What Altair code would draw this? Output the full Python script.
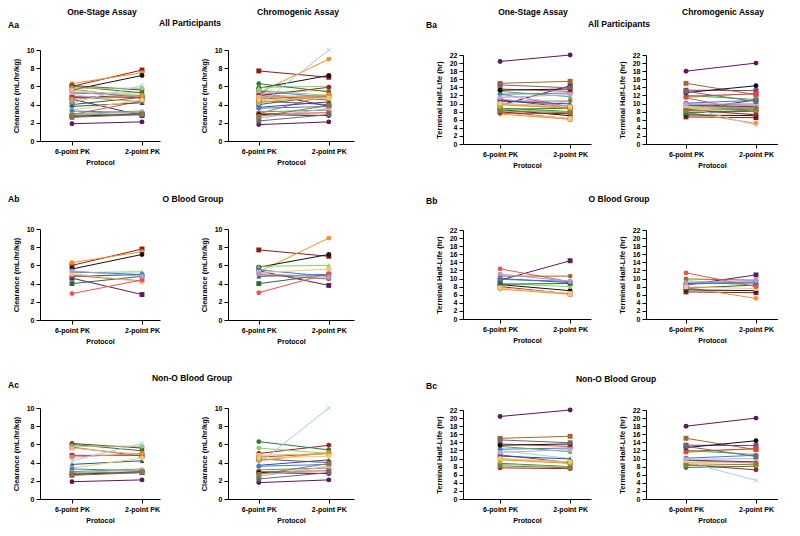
import altair as alt
import pandas as pd

FONT = "Liberation Sans"
PROTOCOLS = ["6-point PK", "2-point PK"]
X_SHAPE = "M-1,-0.8L-0.8,-1L0,-0.2L0.8,-1L1,-0.8L0.2,0L1,0.8L0.8,1L0,0.2L-0.8,1L-1,0.8L-0.2,0Z"

# ---------------- O blood group participants ----------------
O_ids = [f"O{i}" for i in range(1, 13)]
O_colors = ["#8E1B1B", "#F7901E", "#111111", "#5A1E5C", "#7ED957", "#2E6B34",
            "#2753A6", "#3B7FD1", "#9A6A2E", "#F6C08E", "#F0514B", "#B09AD6"]
O_shapes = ["square", "circle", "circle", "square", "triangle-up", "square",
            "triangle-up", "circle", "circle", "square", "circle", "circle"]
# (6-point PK, 2-point PK)
O_clear_one = [(6.0, 7.8), (6.3, 7.5), (5.6, 7.2), (4.6, 2.8), (5.2, 5.3), (4.0, 4.8),
               (4.8, 5.0), (5.3, 5.0), (4.9, 4.3), (5.1, 4.2), (2.9, 4.4), (5.4, 4.8)]
O_clear_chromo = [(7.7, 7.0), (5.3, 9.0), (5.8, 7.2), (5.4, 3.8), (5.9, 6.0), (4.0, 5.0),
                  (4.8, 5.0), (5.5, 4.8), (5.0, 4.5), (5.2, 5.6), (3.0, 5.1), (5.1, 4.7)]
O_hl_one = [(8.0, 6.2), (7.4, 6.1), (8.5, 7.0), (9.6, 14.4), (8.8, 8.0), (8.6, 8.8),
            (10.0, 9.0), (9.8, 9.3), (10.6, 10.6), (7.7, 6.3), (12.4, 9.2), (11.1, 9.3)]
O_hl_chromo = [(6.7, 6.5), (7.8, 5.1), (7.2, 7.0), (8.4, 10.9), (9.5, 8.2), (7.6, 8.4),
               (8.8, 8.9), (8.6, 9.2), (9.9, 9.6), (8.0, 7.5), (11.4, 8.0), (9.0, 9.5)]

# ---------------- Non-O blood group participants ----------------
N_ids = [f"N{i}" for i in range(1, 19)]
N_colors = ["#5B1A5B", "#9B2226", "#2D7A3A", "#8BD16A", "#A9652B", "#F4B183",
            "#7B3F8C", "#F28A30", "#A8CBEF", "#2B4E9B", "#E8D44D", "#3C7DD9",
            "#4CAF50", "#E8403A", "#111111", "#C3A6D8", "#6B6B6B", "#8C7A3A"]
N_shapes = ["circle", "circle", "circle", "circle", "square", "square",
            "square", "circle", "X", "triangle-up", "circle", "circle",
            "triangle-up", "square", "circle", "circle", "square", "square"]
N_clear_one = [(1.9, 2.1), (6.1, 5.6), (6.0, 5.3), (5.8, 5.8), (5.7, 4.7), (5.6, 4.9),
               (4.8, 4.8), (4.6, 5.0), (4.2, 6.1), (3.8, 4.2), (3.4, 4.5), (3.3, 3.1),
               (3.0, 3.3), (2.8, 2.9), (2.7, 3.0), (2.9, 3.2), (2.6, 2.9), (2.8, 3.0)]
N_clear_chromo = [(1.8, 2.1), (5.0, 5.9), (6.3, 5.4), (5.6, 5.0), (4.6, 5.0), (4.8, 5.0),
                  (4.4, 4.0), (4.2, 5.1), (3.9, 10.0), (3.7, 4.3), (4.5, 4.7), (3.6, 3.8),
                  (3.2, 3.4), (3.0, 3.1), (2.9, 2.8), (2.5, 3.6), (2.2, 2.9), (2.7, 3.9)]
N_hl_one = [(20.4, 22.0), (7.7, 7.5), (8.8, 8.0), (8.6, 7.9), (15.0, 15.5), (9.9, 9.0),
            (10.9, 9.0), (9.7, 8.8), (12.0, 10.0), (10.6, 9.9), (10.0, 9.2), (12.3, 12.6),
            (13.0, 11.7), (13.6, 13.0), (13.3, 13.6), (11.5, 12.2), (14.6, 13.9), (8.2, 7.7)]
N_hl_chromo = [(18.0, 20.0), (8.5, 7.2), (7.8, 8.1), (11.5, 12.5), (15.0, 12.2), (9.0, 9.3),
               (13.3, 13.2), (9.5, 8.9), (9.2, 4.6), (9.6, 9.2), (8.9, 8.4), (10.1, 10.8),
               (12.0, 11.0), (11.8, 12.4), (12.7, 14.4), (9.8, 10.0), (13.0, 10.5), (8.3, 8.6)]


def build(group, ids, colors, shapes, c1, c2, h1, h2):
    rows = []
    for i, pid in enumerate(ids):
        shp = X_SHAPE if shapes[i] == "X" else shapes[i]
        for k, prot in enumerate(PROTOCOLS):
            rows.append(dict(group=group, pid=pid, color=colors[i], shape=shp,
                             protocol=prot, clear_one=c1[i][k], clear_chromo=c2[i][k],
                             hl_one=h1[i][k], hl_chromo=h2[i][k]))
    return rows


df = pd.DataFrame(
    build("O", O_ids, O_colors, O_shapes, O_clear_one, O_clear_chromo, O_hl_one, O_hl_chromo)
    + build("Non-O", N_ids, N_colors, N_shapes, N_clear_one, N_clear_chromo, N_hl_one, N_hl_chromo)
)
df_all = df
df_o = df[df["group"] == "O"]
df_non = df[df["group"] == "Non-O"]

CLEAR_TICKS = [0, 2, 4, 6, 8, 10]
HL_TICKS = list(range(0, 23, 2))


def panel(data, field, kind, width, pad, align, height):
    if kind == "clear":
        ytitle, dom, ticks = "Clearance (mL/hr/kg)", [0, 10], CLEAR_TICKS
    else:
        ytitle, dom, ticks = "Terminal Half-Life (hr)", [0, 22], HL_TICKS
    x = alt.X("protocol:N", sort=PROTOCOLS,
              scale=alt.Scale(type="point", padding=pad, align=align),
              axis=alt.Axis(title="Protocol", labelAngle=0, titleFontSize=7, titlePadding=4))
    y = alt.Y(f"{field}:Q", scale=alt.Scale(domain=dom, nice=False),
              axis=alt.Axis(title=ytitle, values=ticks, labelOverlap=False, titlePadding=6))
    base = alt.Chart(data).encode(x=x, y=y)
    lines = base.mark_line(strokeWidth=1).encode(
        detail="pid:N", color=alt.Color("color:N", scale=None))
    pts = base.mark_point(filled=True, size=24, opacity=1).encode(
        color=alt.Color("color:N", scale=None), shape=alt.Shape("shape:N", scale=None))
    return alt.layer(lines, pts).properties(width=width, height=height)


def pair_a(data):
    p1 = panel(data, "clear_one", "clear", 120, 0.357, 0.64, 91)
    p2 = panel(data, "clear_chromo", "clear", 126, 0.40, 0.55, 91)
    return alt.hconcat(p1, p2, spacing=40)


def pair_b(data):
    p3 = panel(data, "hl_one", "hl", 128, 0.414, 0.64, 89)
    p4 = panel(data, "hl_chromo", "hl", 132, 0.443, 0.645, 89)
    return alt.hconcat(p3, p4, spacing=27)


def header(items, height, width):
    base = alt.Chart(alt.Data(values=[{"k": 1}]))
    layers = []
    for txt, x, y, al in items:
        layers.append(base.mark_text(align=al, baseline="middle", fontSize=8.5,
                                     fontWeight="bold", font=FONT, color="black").encode(
            x=alt.value(x), y=alt.value(y), text=alt.value(txt)))
    return alt.layer(*layers).properties(width=width, height=height)


# ---- column A (Clearance) ----
ha1 = header([("One-Stage Assay", 62, 4, "center"), ("Chromogenic Assay", 258, 4, "center"),
              ("Aa", -32, 17, "left"), ("All Participants", 150, 15, "center")], 38, 300)
ha2 = header([("Ab", -32, 34, "left"), ("O Blood Group", 153, 34, "center")], 60, 300)
ha3 = header([("Non-O Blood Group", 152, 34, "center"), ("Ac", -32, 41, "left")], 60, 300)
col_a = alt.vconcat(ha1, pair_a(df_all), ha2, pair_a(df_o), ha3, pair_a(df_non), spacing=0)

# ---- column B (Terminal half-life) ----
hb1 = header([("One-Stage Assay", 70, 4, "center"), ("Chromogenic Assay", 260, 4, "center"),
              ("Ba", -37, 17, "left"), ("All Participants", 156, 16, "center")], 43, 300)
hb2 = header([("Bb", -37, 33, "left"), ("O Blood Group", 156, 31, "center")], 58, 300)
hb3 = header([("Bc", -37, 43, "left"), ("Non-O Blood Group", 153, 36, "center")], 63, 300)
col_b = alt.vconcat(hb1, pair_b(df_all), hb2, pair_b(df_o), hb3, pair_b(df_non), spacing=0)

chart = alt.hconcat(
    col_a, col_b, spacing=72,
    padding={"left": 0, "top": 0, "right": 0, "bottom": 0},
).configure_view(stroke=None).configure_axis(
    grid=False, domainColor="black", tickColor="black", tickSize=4, domainWidth=1,
    labelFont=FONT, labelFontSize=7, labelFontWeight="bold", labelColor="black", labelPadding=2,
    titleFont=FONT, titleFontSize=7.5, titleFontWeight="bold", titleColor="black",
)

chart.save("out.html", embed_options={"renderer": "svg", "actions": False})
